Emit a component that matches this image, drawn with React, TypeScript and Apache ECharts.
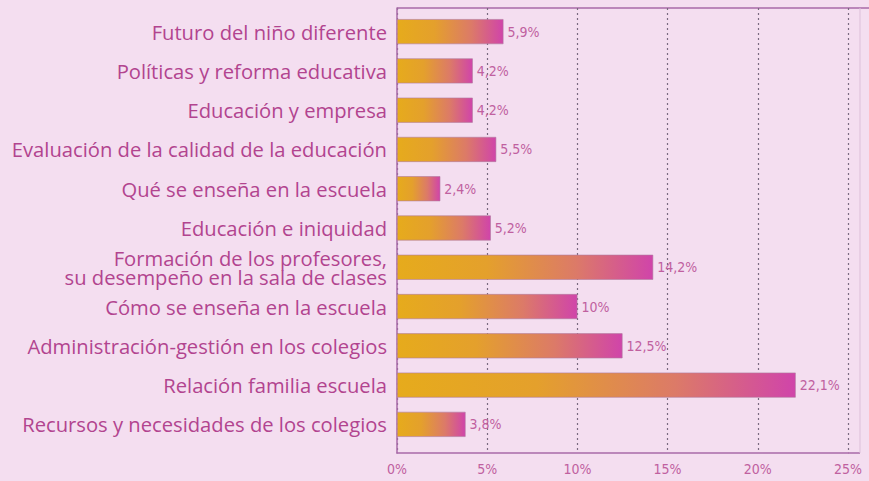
import React, { useEffect, useRef } from "react";
import * as echarts from "echarts";

const categories = [
  "Futuro del niño diferente",
  "Políticas y reforma educativa",
  "Educación y empresa",
  "Evaluación de la calidad de la educación",
  "Qué se enseña en la escuela",
  "Educación e iniquidad",
  "Formación de los profesores,\nsu desempeño en la sala de clases",
  "Cómo se enseña en la escuela",
  "Administración-gestión en los colegios",
  "Relación familia escuela",
  "Recursos y necesidades de los colegios",
];
const values = [5.9, 4.2, 4.2, 5.5, 2.4, 5.2, 14.2, 10, 12.5, 22.1, 3.8];
const valueLabels = ["5,9%", "4,2%", "4,2%", "5,5%", "2,4%", "5,2%", "14,2%", "10%", "12,5%", "22,1%", "3,8%"];

const X_MAX = 25;

export default function App() {
  const ref = useRef<HTMLDivElement>(null);
  useEffect(() => {
    if (!ref.current) return;
    const chart = echarts.init(ref.current, undefined, { renderer: "svg" });
    const textColor = "#b2448f";
    const frameColor = "#a86aa8";
    const narrow = "'Liberation Sans Narrow', 'DejaVu Sans Condensed', 'Roboto', sans-serif";
    chart.setOption({
      animation: false,
      backgroundColor: "#f4def0",
      grid: [
        { left: 397, top: 8, width: 451, height: 445, containLabel: false },
        { left: 397, top: 12, width: 451, height: 432, containLabel: false },
      ],
      xAxis: [
        {
          type: "value",
          gridIndex: 0,
          min: 0,
          max: X_MAX,
          interval: 5,
          axisLine: { show: true, lineStyle: { color: frameColor, width: 1.5 } },
          axisTick: { show: false },
          splitLine: { show: true, lineStyle: { color: "#7a6a80", type: [2, 3], width: 1.2 } },
          axisLabel: {
            margin: 9,
            color: "#c0609f",
            fontFamily: narrow,
            fontSize: 14,
            formatter: (v: number) => v + "%",
          },
        },
        {
          type: "value",
          gridIndex: 1,
          min: 0,
          max: X_MAX,
          show: false,
        },
      ],
      yAxis: [
        {
          type: "category",
          gridIndex: 0,
          data: [""],
          axisLine: { show: true, lineStyle: { color: frameColor, width: 1.5 } },
          axisTick: { show: false },
          axisLabel: { show: false },
        },
        {
          type: "category",
          gridIndex: 1,
          data: categories,
          inverse: true,
          axisLine: { show: false },
          axisTick: { show: false },
          axisLabel: {
            margin: 10,
            color: textColor,
            fontFamily: "'Open Sans', 'Noto Sans', sans-serif",
            fontSize: 20.2,
            lineHeight: 19,
          },
        },
      ],
      graphic: [
        {
          type: "line",
          shape: { x1: 397, y1: 8, x2: 869, y2: 8 },
          style: { stroke: frameColor, lineWidth: 1.5 },
          silent: true,
        },
        {
          type: "line",
          shape: { x1: 848, y1: 453, x2: 860, y2: 453 },
          style: { stroke: frameColor, lineWidth: 1.5 },
          silent: true,
        },
        {
          type: "line",
          shape: { x1: 860, y1: 8, x2: 860, y2: 453 },
          style: { stroke: "#dcbfd9", lineWidth: 1 },
          silent: true,
        },
      ],
      series: [
        {
          type: "bar",
          xAxisIndex: 1,
          yAxisIndex: 1,
          data: values,
          barWidth: 25,
          itemStyle: {
            borderColor: "#b07aa0",
            borderWidth: 0.6,
            color: new echarts.graphic.LinearGradient(0, 0, 1, 0, [
              { offset: 0, color: "#e6ab1c" },
              { offset: 0.35, color: "#e4a02c" },
              { offset: 0.7, color: "#dc7a68" },
              { offset: 1, color: "#d044aa" },
            ]),
          },
          label: {
            show: true,
            position: "right",
            distance: 4,
            color: "#c0609f",
            fontFamily: narrow,
            fontSize: 14,
            formatter: (p: any) => valueLabels[p.dataIndex],
          },
        },
      ],
    });
    return () => chart.dispose();
  }, []);
  return <div ref={ref} style={{ width: 869, height: 481, position: "absolute", left: 0, top: 0 }} />;
}
